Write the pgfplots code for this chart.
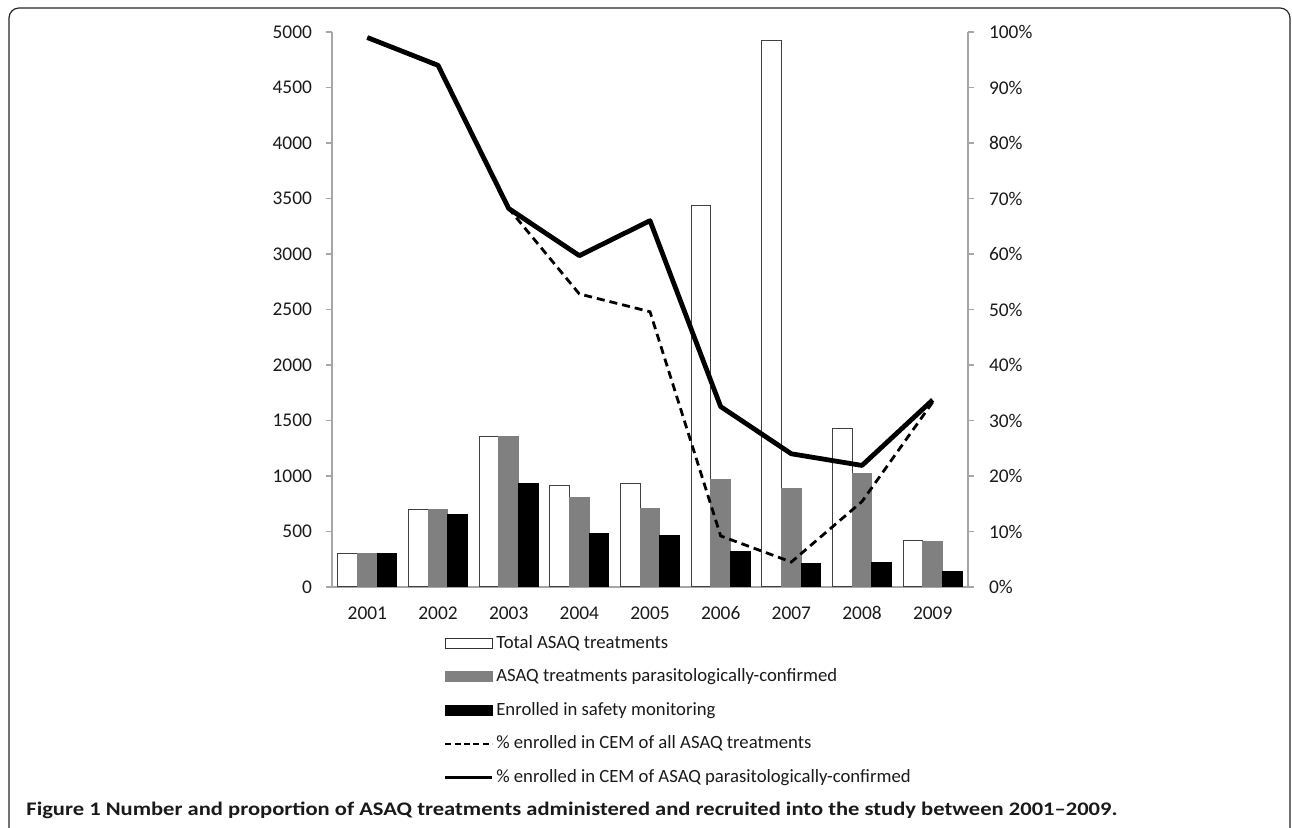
\documentclass[border=0pt]{standalone}
\usepackage{pgfplots}
\pgfplotsset{compat=1.18}
\usepackage{fontspec}
\setmainfont{Carlito}
\definecolor{axgray}{HTML}{A6A6A6}
\definecolor{bargray}{HTML}{808080}
\definecolor{txt}{HTML}{1A1A1A}
\begin{document}
\begin{tikzpicture}[x=1pt,y=1pt]
\useasboundingbox (0,0) rectangle (646,414);
% frame
\draw[line width=0.6pt, black!85, rounded corners=5pt] (4.5,-2) -- (4.5,410) -- (645,410) -- (645,-2);
% bars axis
\begin{axis}[
  at={(166pt,120.5pt)}, anchor=south west,
  scale only axis, width=318pt, height=277.5pt,
  xmin=0.5, xmax=9.5, ymin=0, ymax=5000,
  axis x line*=bottom, axis y line*=left,
  axis line style={draw=axgray, line width=0.6pt, -},
  ytick={0,500,...,5000},
  yticklabels={0,500,1000,1500,2000,2500,3000,3500,4000,4500,5000},
  xtick={1,...,9},
  xticklabels={2001,2002,2003,2004,2005,2006,2007,2008,2009},
  x tick style={draw=none},
  y tick style={draw=axgray, line width=0.6pt},
  tick align=outside, major tick length=3pt,
  extra x ticks={0.5,1.5,...,9.5},
  extra x tick labels={},
  extra x tick style={tick style={draw=axgray, line width=0.6pt}, major tick length=3.5pt},
  tick label style={font=\fontsize{9.7}{11}\selectfont, text=txt},
  yticklabel style={xshift=-3.5pt},
  xticklabel style={yshift=-3pt, text height=6.5pt, text depth=0pt},
  ybar=0pt, bar width=9.85pt,
  clip=false,
]
\addplot[fill=white, draw=black!75, line width=0.5pt] coordinates {(1,305) (2,700) (3,1360) (4,913) (5,934) (6,3440) (7,4920) (8,1432) (9,423)};
\addplot[fill=bargray, draw=bargray, line width=0.5pt] coordinates {(1,303) (2,694) (3,1354) (4,805) (5,703) (6,970) (7,889) (8,1021) (9,412)};
\addplot[fill=black, draw=black, line width=0.5pt] coordinates {(1,300) (2,655) (3,928) (4,480) (5,466) (6,318) (7,213) (8,222) (9,138)};
\end{axis}
% percent axis
\begin{axis}[
  at={(166pt,120.5pt)}, anchor=south west,
  scale only axis, width=318pt, height=277.5pt,
  xmin=0.5, xmax=9.5, ymin=0, ymax=100,
  axis x line=none, axis y line*=right,
  axis line style={draw=axgray, line width=0.6pt, -},
  ytick={0,10,...,100},
  yticklabels={0\%,10\%,20\%,30\%,40\%,50\%,60\%,70\%,80\%,90\%,100\%},
  y tick style={draw=axgray, line width=0.6pt},
  tick align=outside, major tick length=3pt,
  tick label style={font=\fontsize{9.7}{11}\selectfont, text=txt},
  yticklabel style={xshift=4pt},
  clip=false,
  legend style={at={(0.1749,-0.0804)}, anchor=north west, draw=none, fill=none,
    inner sep=0pt, row sep=5.8pt, font=\fontsize{9.35}{11}\selectfont,
    nodes={inner sep=1.25pt, text=txt, text height=6.8pt, text depth=1.7pt}},
  legend cell align=left,
]
\addlegendimage{legend image code/.code={\draw[fill=white, draw=black!80, line width=0.5pt] (0pt,-2.5pt) rectangle (23.5pt,2.5pt);}}
\addlegendentry{Total ASAQ treatments}
\addlegendimage{legend image code/.code={\draw[fill=bargray, draw=bargray, line width=0.5pt] (0pt,-2.5pt) rectangle (23.5pt,2.5pt);}}
\addlegendentry{ASAQ treatments parasitologically-confirmed}
\addlegendimage{legend image code/.code={\draw[fill=black, draw=black, line width=0.5pt] (0pt,-2.5pt) rectangle (23.5pt,2.5pt);}}
\addlegendentry{Enrolled in safety monitoring}
\addlegendimage{legend image code/.code={\draw[black, line width=1.2pt, dash pattern=on 3pt off 1.7pt] (0pt,0pt) -- (23.5pt,0pt);}}
\addlegendentry{\% enrolled in CEM of all ASAQ treatments}
\addlegendimage{legend image code/.code={\draw[black, line width=1.6pt] (0pt,0pt) -- (23.5pt,0pt);}}
\addlegendentry{\% enrolled in CEM of ASAQ parasitologically-confirmed}
\addplot[black, line width=1.4pt, dash pattern=on 4pt off 2.5pt, mark=none, forget plot] coordinates {(1,99.0) (2,93.8) (3,68.2) (4,52.8) (5,49.6) (6,9.2) (7,4.5) (8,15.4) (9,33.3)};
\addplot[black, line width=2.4pt, mark=none, line join=round, forget plot] coordinates {(1,99.0) (2,94.0) (3,68.2) (4,59.7) (5,66.0) (6,32.5) (7,24.0) (8,21.9) (9,33.7)};
\end{axis}
\node[anchor=base west, inner sep=0pt, text=txt, font=\bfseries\fontsize{9.6}{11}\selectfont] at (13,6) {\resizebox{545.5pt}{\height}{Figure 1 Number and proportion of ASAQ treatments administered and recruited into the study between 2001–2009.}};
\end{tikzpicture}
\end{document}
